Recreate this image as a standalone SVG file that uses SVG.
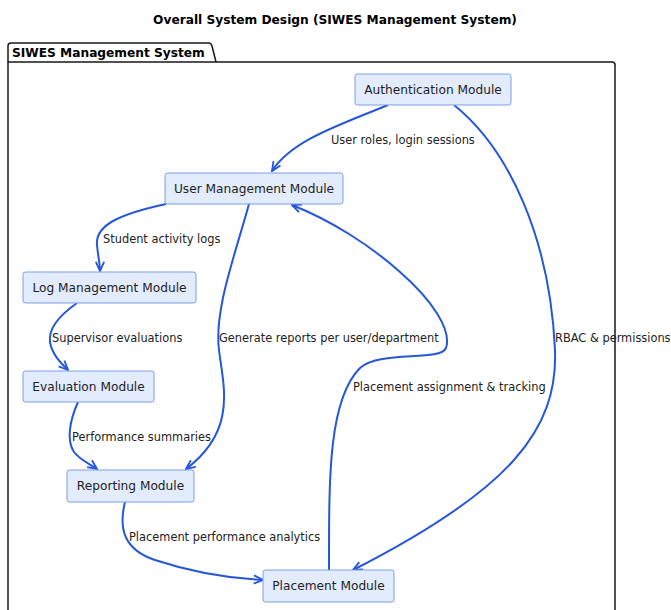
<svg xmlns="http://www.w3.org/2000/svg" width="671" height="610" viewBox="0 0 671 610">
<defs>
<style>
.title{font-family:"DejaVu Sans",sans-serif;font-size:12.2px;font-weight:bold;fill:#000}
.pkg{fill:none;stroke:#181818;stroke-width:1.5}
.node rect{fill:#e2ecfd;stroke:#7a9ee8;stroke-width:1}
.node text{font-family:"DejaVu Sans",sans-serif;font-size:12.2px;fill:#222;text-anchor:middle}
.edge{fill:none;stroke:#2657d9;stroke-width:2}
.lbl{font-family:"DejaVu Sans",sans-serif;font-size:11.4px;fill:#222}
</style>
<marker id="arr" viewBox="0 0 12 12" refX="11" refY="6" markerWidth="11" markerHeight="11" markerUnits="userSpaceOnUse" orient="auto">
<path d="M1,1.5 L11,6 L1,10.5" fill="none" stroke="#2657d9" stroke-width="2" stroke-linejoin="miter"/>
</marker>
</defs>
<rect width="671" height="610" fill="#fff"/>
<text class="title" x="335" y="24" text-anchor="middle">Overall System Design (SIWES Management System)</text>
<g id="package">
<path class="pkg" d="M8,62 L8,46 Q8,43 11,43 L209,43 Q211,43 212,46 L216,62"/>
<path class="pkg" d="M8,625 L8,62 L612,62 Q615,62 615,65 L615,625"/>
<text class="title" x="12" y="57">SIWES Management System</text>
</g>
<g id="connectors">
<path class="edge" marker-end="url(#arr)" d="M388,105 C340,125 292,140 272,171"/>
<path class="edge" marker-end="url(#arr)" d="M454,105 C510,150 550,240 555,350 C558,430 510,490 353,570"/>
<path class="edge" marker-end="url(#arr)" d="M166,204 C120,214 95,225 97,245 C98,256 100,264 100,271"/>
<path class="edge" marker-end="url(#arr)" d="M77,303 C60,315 48,328 50,342 C52,355 62,364 68,370"/>
<path class="edge" marker-end="url(#arr)" d="M78,402 C70,420 66,440 74,452 C80,460 90,464 97,469"/>
<path class="edge" marker-end="url(#arr)" d="M249,204 C235,255 214,310 219,350 C223,385 238,430 186,469"/>
<path class="edge" marker-end="url(#arr)" d="M125,502 C118,530 125,550 155,560 C185,570 225,578 263,580"/>
<path class="edge" marker-end="url(#arr)" d="M329,570 C329,480 328,400 360,368 C380,350 440,362 446,348 C452,330 432,300 400,272 C370,245 330,220 292,205"/>
<text class="lbl" x="331" y="144">User roles, login sessions</text>
<text class="lbl" x="555" y="342">RBAC &amp; permissions</text>
<text class="lbl" x="103" y="243">Student activity logs</text>
<text class="lbl" x="52" y="342">Supervisor evaluations</text>
<text class="lbl" x="72" y="441">Performance summaries</text>
<text class="lbl" x="219" y="342">Generate reports per user/department</text>
<text class="lbl" x="129" y="541">Placement performance analytics</text>
<text class="lbl" x="353" y="391">Placement assignment &amp; tracking</text>
</g>
<g id="auth" class="node"><rect x="355" y="74" width="156" height="31" rx="2.5"/><text x="433" y="94">Authentication Module</text></g>
<g id="user" class="node"><rect x="165" y="173" width="178" height="31" rx="2.5"/><text x="254" y="193">User Management Module</text></g>
<g id="log" class="node"><rect x="23" y="272" width="173" height="31" rx="2.5"/><text x="109.5" y="292">Log Management Module</text></g>
<g id="eval" class="node"><rect x="23" y="371" width="131" height="31" rx="2.5"/><text x="88.5" y="391">Evaluation Module</text></g>
<g id="report" class="node"><rect x="67" y="470" width="127" height="32" rx="2.5"/><text x="130.5" y="490">Reporting Module</text></g>
<g id="placement" class="node"><rect x="263" y="570" width="131" height="32" rx="2.5"/><text x="328.5" y="590">Placement Module</text></g>
</svg>
